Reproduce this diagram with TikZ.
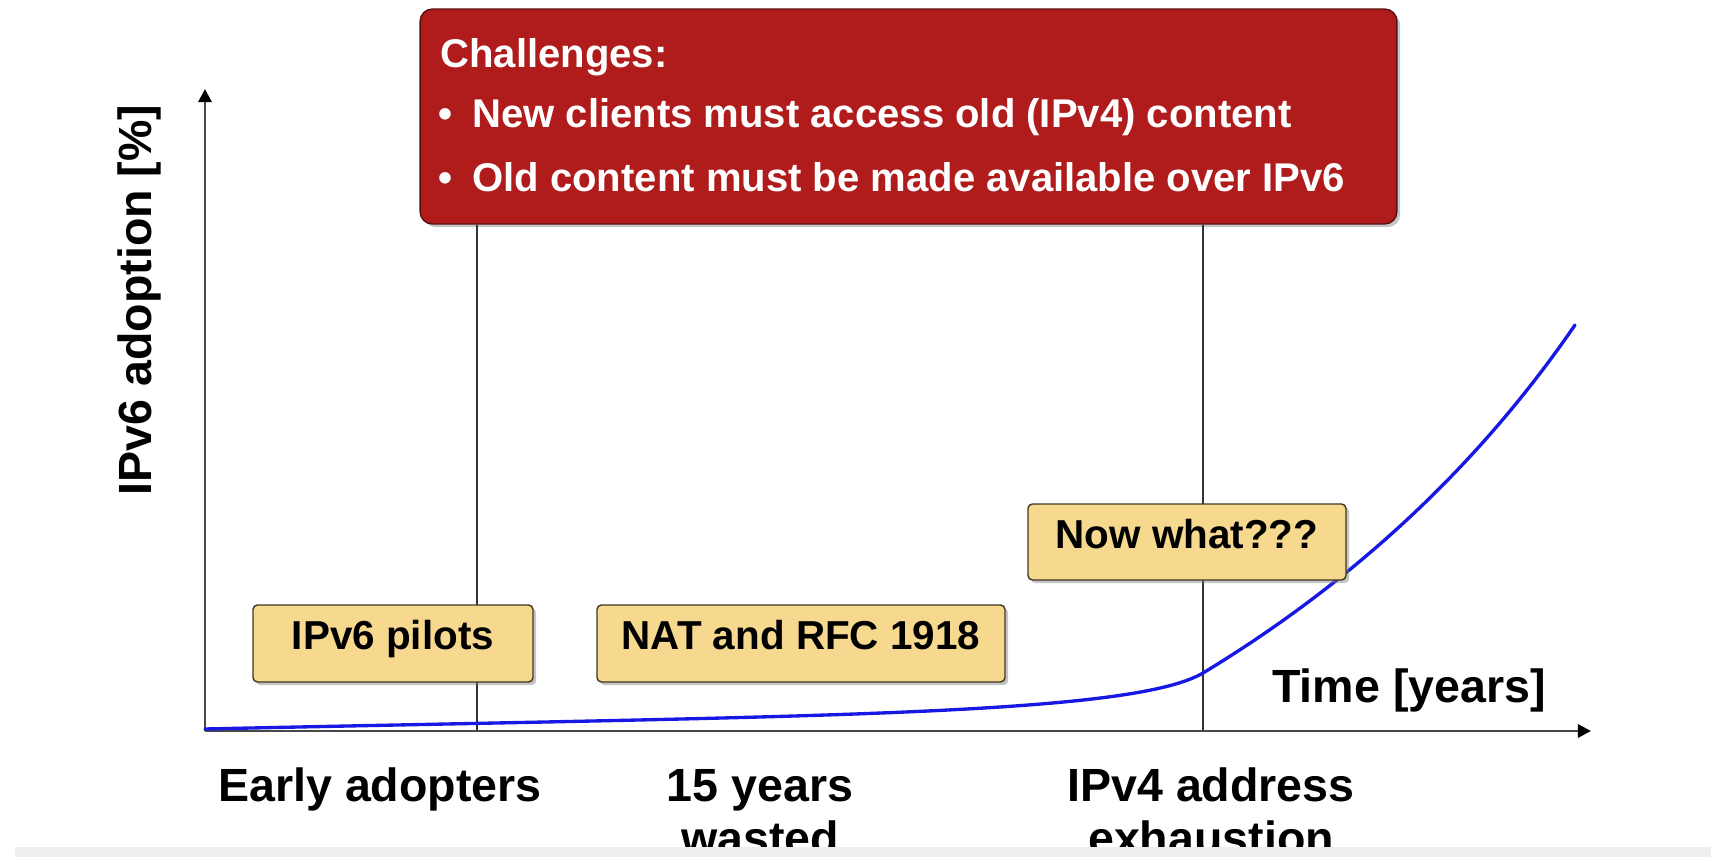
\documentclass[tikz,border=0pt]{standalone}
\usepackage{fontspec}
\setmainfont{Liberation Sans}
\usetikzlibrary{arrows.meta,shadows}

\definecolor{slidered}{RGB}{176,28,28}
\definecolor{rededge}{RGB}{90,16,16}
\definecolor{notefill}{RGB}{246,216,142}
\definecolor{noteedge}{RGB}{66,54,34}
\definecolor{axisgray}{RGB}{72,72,72}
\definecolor{bandgray}{RGB}{238,238,238}
\definecolor{curveblue}{RGB}{24,24,228}

\tikzset{
  note/.style={draw=noteedge, line width=0.8pt, fill=notefill, rounded corners=2.5pt,
    drop shadow={shadow xshift=1.8pt, shadow yshift=-1.8pt, opacity=0.45},
    inner sep=0pt, font=\fontsize{23pt}{27pt}\selectfont\bfseries,
    text height=1.38ex, text depth=0pt},
  challenge/.style={draw=rededge, line width=0.8pt, fill=slidered, rounded corners=7pt,
    drop shadow={shadow xshift=1.8pt, shadow yshift=-1.8pt, opacity=0.45},
    inner sep=0pt},
  redtext/.style={text=white, inner sep=0pt, font=\fontsize{22.8pt}{27pt}\selectfont\bfseries},
  axislabel/.style={inner sep=0pt, font=\fontsize{26.5pt}{30pt}\selectfont\bfseries},
  axisline/.style={draw=axisgray, line width=1.7pt,
    -{Triangle[length=7.5pt,width=7.5pt,color=black]}},
  guide/.style={draw=black!80, line width=0.8pt},
  adoption/.style={draw=curveblue, line width=1.9pt, line cap=round},
}

\begin{document}
\begin{tikzpicture}[x=0.02cm, y=-0.02cm]
  % page and its margins
  \fill[white] (0,0) rectangle (1711,857);
  \useasboundingbox (0,0) rectangle (1711,857);

  % key points of the chart
  \coordinate (origin) at (205,731);
  \coordinate (ytip)   at (205,89);
  \coordinate (xtip)   at (1591,731);
  \coordinate (mark1)  at (477,731);
  \coordinate (mark2)  at (1203,731);
  \coordinate (knee)   at (1203,673);
  \coordinate (cend)   at (1575,325);

  % challenges panel
  \node[challenge, minimum width=19.54cm, minimum height=4.3cm] (chal) at (908.5,116.5) {};

  % era separators
  \draw[guide] (chal.south -| mark1) -- (mark1);
  \draw[guide] (chal.south -| mark2) -- (mark2);

  % axes
  \draw[axisline] (origin) -- (ytip);
  \draw[axisline] (origin) -- (xtip);

  % adoption curve: flat for years, then taking off
  \draw[adoption] (205,729) .. controls (800,716) and (1130,716) .. (knee)
                            .. controls (1340,590) and (1470,478) .. (cend);

  % panel text
  \node[redtext, anchor=base west] (chalhead) at (440,68) {Challenges:};
  \node[redtext, anchor=base west] (chal1) at (438,128)
    {\makebox[0.68cm][l]{•}New clients must access old (IPv4) content};
  \node[redtext, anchor=base west] (chal2) at (438,192)
    {\makebox[0.68cm][l]{•}Old content must be made available over IPv6};

  % phase notes
  \node[note, minimum width=5.6cm, minimum height=1.54cm] (pilots) at (393,643.5) {IPv6 pilots};
  \node[note, minimum width=8.16cm, minimum height=1.54cm] (nat) at (801,643.5) {NAT and RFC 1918};
  \node[note, minimum width=6.36cm, minimum height=1.52cm] (nowwhat) at (1187,542) {Now what???};

  % axis labels
  \node[axislabel, anchor=base] (xlabel) at (1409,703) {Time [years]};
  \node[axislabel, anchor=base, rotate=90] (ylabel) at (151,300) {IPv6 adoption [\%]};

  % phase labels under the time axis
  \node[axislabel, anchor=base] (early) at (380,802) {Early adopters};
  \node[axislabel, anchor=base] (wasteda) at (760,802) {15 years};
  \node[axislabel, anchor=base] (wastedb) at (760,854) {wasted};
  \node[axislabel, anchor=base] (exhausta) at (1211,802) {IPv4 address};
  \node[axislabel, anchor=base] (exhaustb) at (1211,854) {exhaustion};

  % bottom strip
  \fill[bandgray] (15,847) rectangle (1711,857);
\end{tikzpicture}
\end{document}
